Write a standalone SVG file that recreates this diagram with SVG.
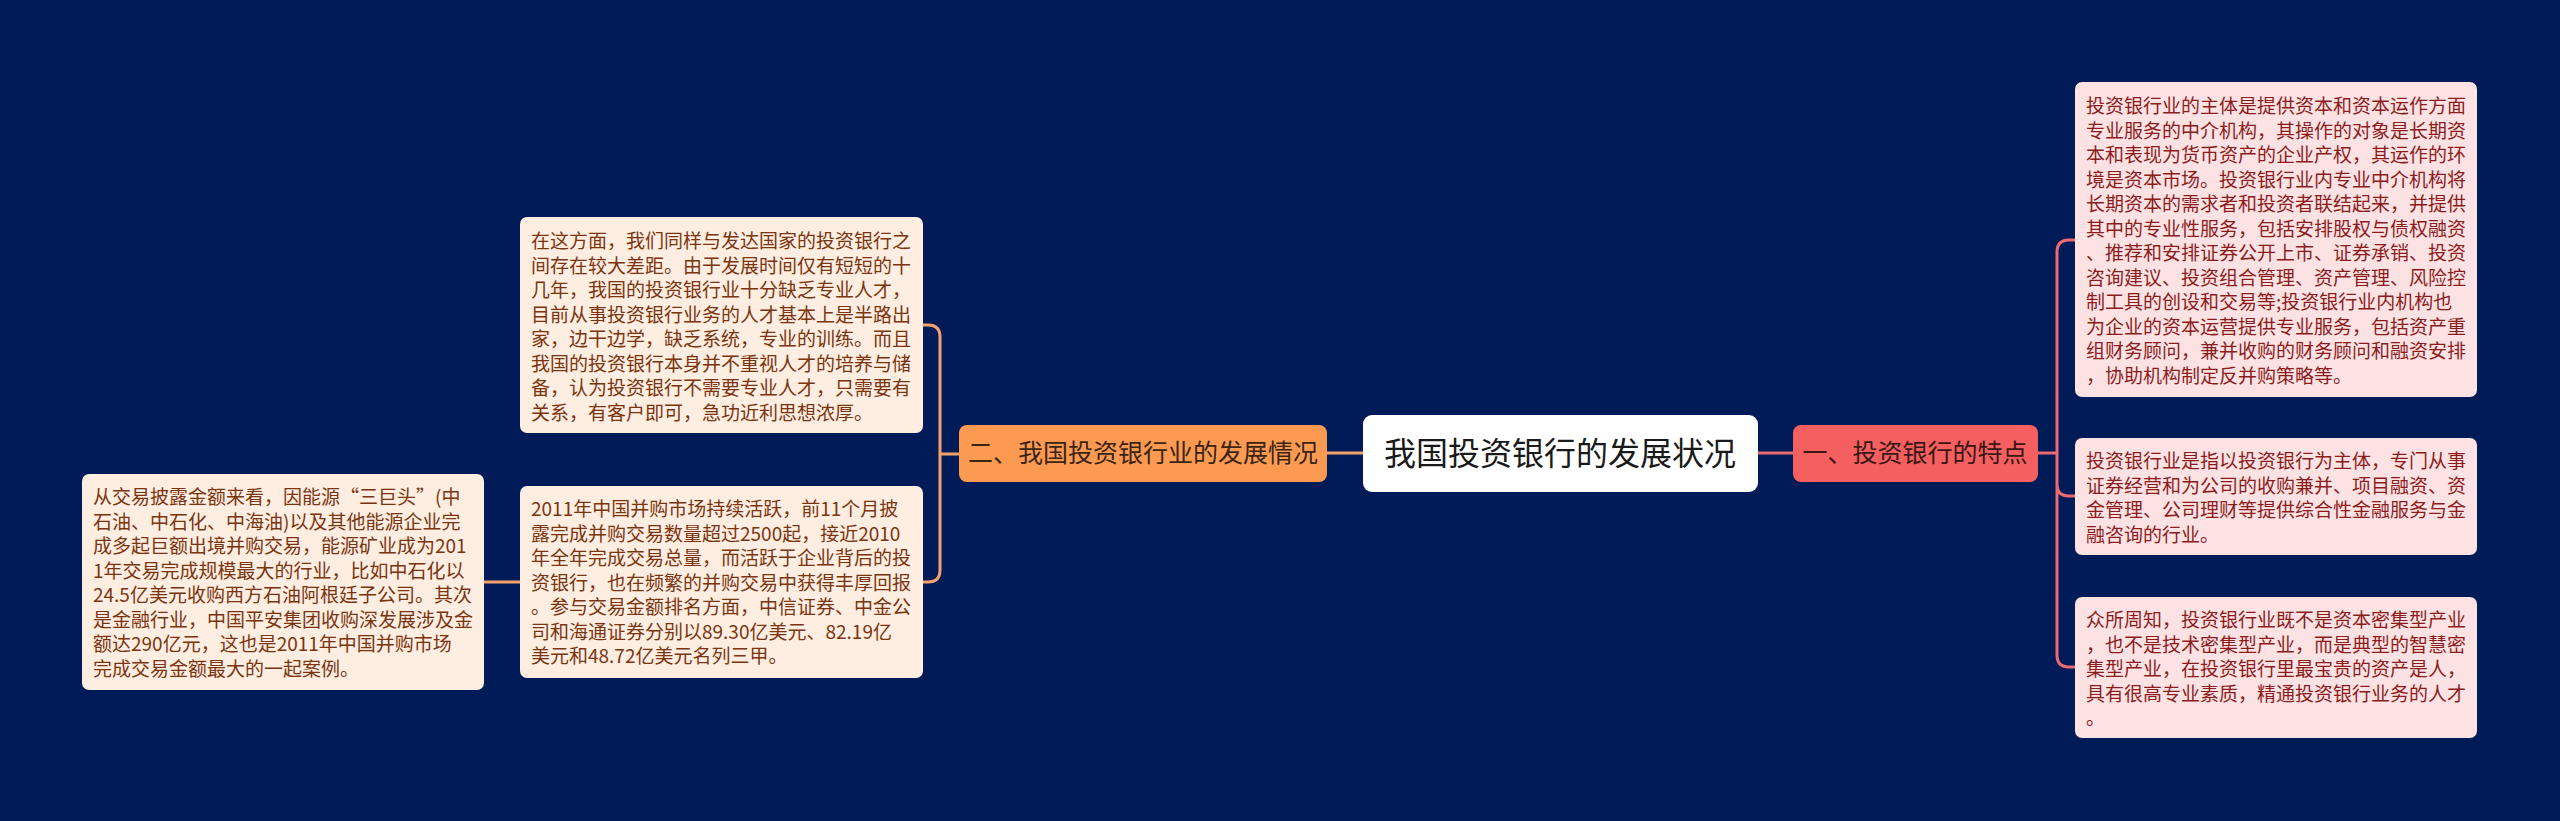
<svg xmlns="http://www.w3.org/2000/svg" width="2560" height="821" viewBox="0 0 2560 821">
<style>
.bg{fill:#001b57}
.c-or{fill:none;stroke:#f4a26c;stroke-width:3}
.c-rd{fill:none;stroke:#ec6b70;stroke-width:3}
.pink{fill:#fde2e4}
.beige{fill:#feede1}
.tp{font-family:"Noto Sans CJK SC","Liberation Sans",sans-serif;font-size:19px;fill:#8c1c1c}
.tb{font-family:"Noto Sans CJK SC","Liberation Sans",sans-serif;font-size:19px;fill:#7a3510}
.mid{font-family:"Noto Sans CJK SC","Liberation Sans",sans-serif;text-anchor:middle}
</style>
<rect class="bg" x="0" y="0" width="2560" height="821"/>
<g id="connectors">
<path class="c-or" d="M1363 453 H1327"/>
<path class="c-or" d="M959 454 H940 M940 454 V337 Q940 325 928 325 H923 M940 454 V570 Q940 582 928 582 H923"/>
<path class="c-or" d="M520 582 H484"/>
<path class="c-rd" d="M1758 453 H1793"/>
<path class="c-rd" d="M2038 453 H2057 M2057 453 V252 Q2057 240 2069 240 H2075 M2057 453 V484 Q2057 496 2069 496 H2075 M2057 453 V655 Q2057 667 2069 667 H2075"/>
</g>
<g id="center">
<rect x="1363" y="415" width="395" height="77" rx="9" fill="#ffffff"/>
<text class="mid" x="1560" y="465" font-size="32" fill="#1a1a1a">我国投资银行的发展状况</text>
</g>
<g id="branch-left">
<rect x="959" y="425" width="368" height="57" rx="8" fill="#fd9a52"/>
<text class="mid" x="1143" y="462" font-size="25" fill="#3a2414">二、我国投资银行业的发展情况</text>
</g>
<g id="branch-right">
<rect x="1793" y="425" width="245" height="57" rx="8" fill="#f65f5f"/>
<text class="mid" x="1915" y="462" font-size="25" fill="#3a1616">一、投资银行的特点</text>
</g>
<g id="right-top">
<rect class="pink" x="2075" y="82" width="402" height="315" rx="7"/>
<text class="tp" x="2086" y="113">
<tspan x="2086" dy="0">投资银行业的主体是提供资本和资本运作方面</tspan>
<tspan x="2086" dy="24.5">专业服务的中介机构，其操作的对象是长期资</tspan>
<tspan x="2086" dy="24.5">本和表现为货币资产的企业产权，其运作的环</tspan>
<tspan x="2086" dy="24.5">境是资本市场。投资银行业内专业中介机构将</tspan>
<tspan x="2086" dy="24.5">长期资本的需求者和投资者联结起来，并提供</tspan>
<tspan x="2086" dy="24.5">其中的专业性服务，包括安排股权与债权融资</tspan>
<tspan x="2086" dy="24.5">、推荐和安排证券公开上市、证券承销、投资</tspan>
<tspan x="2086" dy="24.5">咨询建议、投资组合管理、资产管理、风险控</tspan>
<tspan x="2086" dy="24.5">制工具的创设和交易等;投资银行业内机构也</tspan>
<tspan x="2086" dy="24.5">为企业的资本运营提供专业服务，包括资产重</tspan>
<tspan x="2086" dy="24.5">组财务顾问，兼并收购的财务顾问和融资安排</tspan>
<tspan x="2086" dy="24.5">，协助机构制定反并购策略等。</tspan>
</text>
</g>
<g id="right-mid">
<rect class="pink" x="2075" y="438" width="402" height="117" rx="7"/>
<text class="tp" x="2086" y="468">
<tspan x="2086" dy="0">投资银行业是指以投资银行为主体，专门从事</tspan>
<tspan x="2086" dy="24.5">证券经营和为公司的收购兼并、项目融资、资</tspan>
<tspan x="2086" dy="24.5">金管理、公司理财等提供综合性金融服务与金</tspan>
<tspan x="2086" dy="24.5">融咨询的行业。</tspan>
</text>
</g>
<g id="right-bottom">
<rect class="pink" x="2075" y="597" width="402" height="141" rx="7"/>
<text class="tp" x="2086" y="627">
<tspan x="2086" dy="0">众所周知，投资银行业既不是资本密集型产业</tspan>
<tspan x="2086" dy="24.5">，也不是技术密集型产业，而是典型的智慧密</tspan>
<tspan x="2086" dy="24.5">集型产业，在投资银行里最宝贵的资产是人，</tspan>
<tspan x="2086" dy="24.5">具有很高专业素质，精通投资银行业务的人才</tspan>
<tspan x="2086" dy="24.5">。</tspan>
</text>
</g>
<g id="left-top">
<rect class="beige" x="520" y="217" width="403" height="216" rx="7"/>
<text class="tb" x="531" y="248">
<tspan x="531" dy="0">在这方面，我们同样与发达国家的投资银行之</tspan>
<tspan x="531" dy="24.5">间存在较大差距。由于发展时间仅有短短的十</tspan>
<tspan x="531" dy="24.5">几年，我国的投资银行业十分缺乏专业人才，</tspan>
<tspan x="531" dy="24.5">目前从事投资银行业务的人才基本上是半路出</tspan>
<tspan x="531" dy="24.5">家，边干边学，缺乏系统，专业的训练。而且</tspan>
<tspan x="531" dy="24.5">我国的投资银行本身并不重视人才的培养与储</tspan>
<tspan x="531" dy="24.5">备，认为投资银行不需要专业人才，只需要有</tspan>
<tspan x="531" dy="24.5">关系，有客户即可，急功近利思想浓厚。</tspan>
</text>
</g>
<g id="left-bottom">
<rect class="beige" x="520" y="486" width="403" height="192" rx="7"/>
<text class="tb" x="531" y="516">
<tspan x="531" dy="0">2011年中国并购市场持续活跃，前11个月披</tspan>
<tspan x="531" dy="24.5">露完成并购交易数量超过2500起，接近2010</tspan>
<tspan x="531" dy="24.5">年全年完成交易总量，而活跃于企业背后的投</tspan>
<tspan x="531" dy="24.5">资银行，也在频繁的并购交易中获得丰厚回报</tspan>
<tspan x="531" dy="24.5">。参与交易金额排名方面，中信证券、中金公</tspan>
<tspan x="531" dy="24.5">司和海通证券分别以89.30亿美元、82.19亿</tspan>
<tspan x="531" dy="24.5">美元和48.72亿美元名列三甲。</tspan>
</text>
</g>
<g id="far-left">
<rect class="beige" x="82" y="474" width="402" height="216" rx="7"/>
<text class="tb" x="93" y="504">
<tspan x="93" dy="0">从交易披露金额来看，因能源“三巨头”(中</tspan>
<tspan x="93" dy="24.5">石油、中石化、中海油)以及其他能源企业完</tspan>
<tspan x="93" dy="24.5">成多起巨额出境并购交易，能源矿业成为201</tspan>
<tspan x="93" dy="24.5">1年交易完成规模最大的行业，比如中石化以</tspan>
<tspan x="93" dy="24.5">24.5亿美元收购西方石油阿根廷子公司。其次</tspan>
<tspan x="93" dy="24.5">是金融行业，中国平安集团收购深发展涉及金</tspan>
<tspan x="93" dy="24.5">额达290亿元，这也是2011年中国并购市场</tspan>
<tspan x="93" dy="24.5">完成交易金额最大的一起案例。</tspan>
</text>
</g>
</svg>
